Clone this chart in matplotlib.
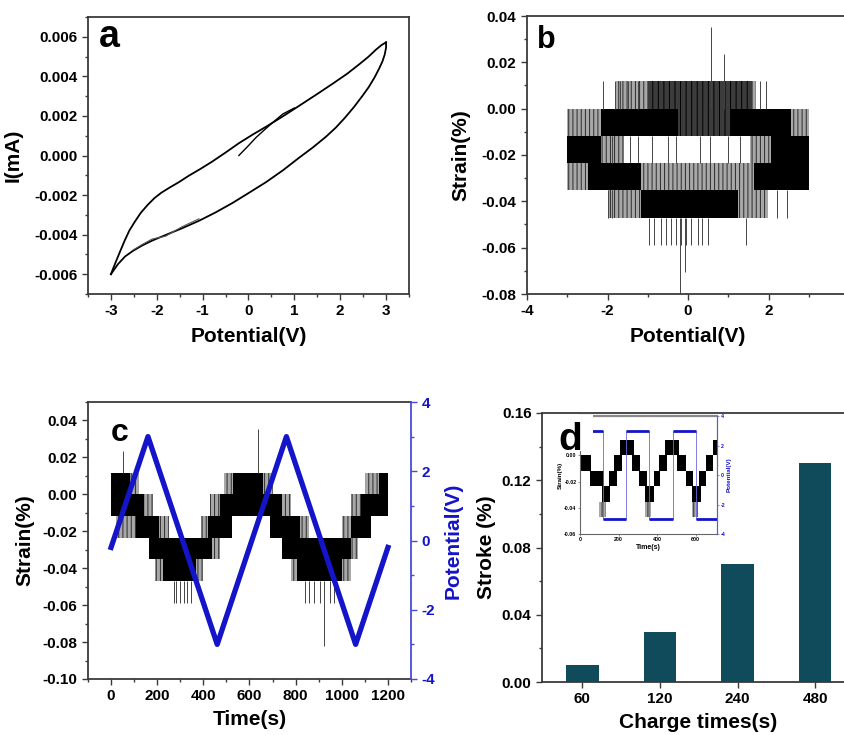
import matplotlib
matplotlib.use("Agg")
import matplotlib.pyplot as plt
from matplotlib.patches import Rectangle
from matplotlib.ticker import MultipleLocator

plt.rcParams["font.family"] = ["Liberation Sans", "DejaVu Sans"]
plt.rcParams["font.weight"] = "bold"
plt.rcParams["axes.labelweight"] = "bold"
plt.rcParams["axes.unicode_minus"] = False
plt.rcParams["hatch.linewidth"] = 0.7

# (a) cyclic voltammetry, potential in V, current in mA
cv_up_v = [-3.00, -2.95, -2.88, -2.80, -2.70, -2.60, -2.48, -2.35, -2.20, -2.05, -1.90,
           -1.72, -1.52, -1.30, -1.05, -0.80, -0.50, -0.21, 0.10, 0.38, 0.75, 1.11, 1.48,
           1.83, 2.15, 2.42, 2.62, 2.78, 2.90, 3.00]
cv_up_i = [-0.00600, -0.00570, -0.00530, -0.00485, -0.00430, -0.00380, -0.00335, -0.00290,
           -0.00250, -0.00215, -0.00188, -0.00162, -0.00135, -0.00102, -0.00068, -0.00032,
           0.00015, 0.00062, 0.00107, 0.00145, 0.00198, 0.00252, 0.00308, 0.00362,
           0.00413, 0.00462, 0.00500, 0.00535, 0.00558, 0.00572]
cv_down_v = [3.00, 3.00, 2.97, 2.92, 2.85, 2.75, 2.62, 2.48, 2.30, 2.10, 1.90, 1.69, 1.40,
             1.11, 0.75, 0.38, 0.00, -0.35, -0.72, -1.08, -1.45, -1.81, -2.10, -2.32,
             -2.52, -2.69, -2.85, -3.00]
cv_down_i = [0.00572, 0.00545, 0.00510, 0.00475, 0.00440, 0.00395, 0.00345, 0.00300,
             0.00245, 0.00190, 0.00140, 0.00095, 0.00040, -0.00010, -0.00075, -0.00135,
             -0.00190, -0.00240, -0.00288, -0.00330, -0.00368, -0.00402, -0.00430,
             -0.00455, -0.00482, -0.00510, -0.00550, -0.00600]
cv_down2_v = [-1.08, -1.45, -1.81, -2.10, -2.32, -2.52]
cv_down2_i = [-0.00320, -0.00360, -0.00408, -0.00422, -0.00450, -0.00478]
cv_start_v = [-0.21, 0.00, 0.16, 0.35, 0.52, 0.75, 1.00]
cv_start_i = [0.0000, 0.0005, 0.0009, 0.0013, 0.00165, 0.0021, 0.0024]

# strain readout resolution (%)
Q = 0.01176

# (b) strain vs potential; each entry (v0, v1, k) fills k*Q .. (k+1)*Q
b_dense = [(-2.15, -0.25, -1), (1.07, 2.56, -1), (-3.00, -2.15, -2), (2.06, 3.00, -2),
           (-2.48, -1.17, -3), (1.65, 3.00, -3), (-1.17, 1.23, -4)]
b_mid = [(-1.00, 1.60, 0), (-0.25, 1.07, -1)]
b_sparse = [(-3.00, -2.15, -1), (2.56, 3.00, -1), (-1.80, -1.00, 0), (1.60, 1.70, 0),
            (-2.15, -1.60, -2), (1.55, 2.06, -2), (-3.00, -2.48, -3), (-1.17, 1.65, -3),
            (-2.00, -1.17, -4), (1.23, 1.98, -4)]
# single spikes (v, k_low, k_high)
b_spikes = [(0.57, 0, 3), (0.90, 0, 2), (-2.11, 0, 1), (-1.82, 0, 1), (-1.70, 0, 1),
            (-1.49, 0, 1), (-1.24, 0, 1), (1.80, 0, 1), (1.95, 0, 1),
            (-0.96, -5, -4), (-0.84, -5, -4), (-0.67, -5, -4), (-0.55, -5, -4),
            (-0.42, -5, -4), (-0.30, -5, -4), (-0.17, -5, -4), (-0.05, -5, -4),
            (0.07, -5, -4), (0.24, -5, -4), (0.36, -5, -4), (0.49, -5, -4), (1.44, -5, -4),
            (-0.07, -6, -4), (-0.19, -7, -4), (-2.00, -4, -3), (-1.90, -4, -3),
            (2.20, -4, -3), (2.45, -4, -3), (-1.90, -2, -1), (-1.45, -2, -1),
            (-1.25, -2, -1), (-0.90, -2, -1), (-0.50, -2, -1), (-0.30, -2, -1),
            (0.30, -2, -1), (0.55, -2, -1), (1.00, -2, -1), (1.30, -2, -1)]

# (c) strain and applied potential vs time
c_dense = [(0, 80, 0), (530, 660, 0), (1160, 1200, 0), (0, 144, -1), (471, 740, -1),
           (1082, 1200, -1), (108, 209, -2), (420, 522, -2), (689, 820, -2),
           (1039, 1126, -2), (166, 436, -3), (740, 1039, -3), (224, 370, -4),
           (806, 1002, -4)]
c_sparse = [(20, 108, -2), (80, 120, 0), (490, 530, 0), (660, 700, 0), (1100, 1160, 0),
            (144, 180, -1), (430, 471, -1), (740, 780, -1), (1040, 1082, -1),
            (209, 250, -2), (390, 420, -2), (820, 860, -2), (1000, 1039, -2),
            (436, 470, -3), (1039, 1070, -3), (190, 224, -4), (370, 400, -4),
            (780, 806, -4), (1002, 1040, -4)]
c_spikes = [(52, 1, 2), (638, 1, 3), (272, -5, -4), (283, -5, -4), (300, -5, -4),
            (315, -5, -4), (330, -5, -4), (348, -5, -4), (842, -5, -4), (860, -5, -4),
            (880, -5, -4), (905, -5, -4), (950, -5, -4), (966, -5, -4), (922, -7, -4)]
c_time = [0, 160, 460, 760, 1060, 1200]
c_pot = [-0.2, 3, -3, 3, -3, -0.2]

# (d) stroke for each charge time, and the inset step response
charge_times = ["60", "120", "240", "480"]
stroke = [0.01, 0.03, 0.07, 0.13]
inset_dense = [(0, 56, -1), (52, 122, -2), (113, 157, -3), (148, 191, -2), (174, 217, -1),
               (209, 278, 0), (270, 313, -1), (304, 348, -2), (339, 383, -3),
               (383, 417, -2), (409, 452, -1), (443, 513, 0), (504, 548, -1),
               (548, 588, -2), (583, 626, -3), (617, 652, -2), (652, 687, -1),
               (687, 710, 0)]
inset_sparse = [(100, 135, -4), (335, 370, -4), (580, 610, -4)]
inset_time = [60, 120, 120, 240, 240, 360, 360, 480, 480, 600, 600, 710]
inset_pot = [3, 3, -3, -3, 3, 3, -3, -3, 3, 3, -3, -3]

W, H = 845, 735
SPINE = "#3a3a3a"
BLUE = "#1414c8"
BAR = "#0f4b5b"


def box(left, top, right, bottom):
    return [left / W, 1 - bottom / H, (right - left) / W, (bottom - top) / H]


def style(ax, size=11):
    for s in ax.spines.values():
        s.set_color(SPINE)
        s.set_linewidth(1.3)
    ax.tick_params(which="both", direction="out", top=False, right=False,
                   color=SPINE, labelsize=size, width=1)
    ax.tick_params(which="major", length=4)
    ax.tick_params(which="minor", length=2.5)


def draw_strain(ax, dense, sparse, spikes=(), mid=()):
    for x0, x1, k in sparse:
        ax.fill_between([x0, x1], k * Q, (k + 1) * Q, facecolor="#a8a8a8",
                        edgecolor="#2a2a2a", hatch="||||", lw=0)
    for x0, x1, k in mid:
        ax.fill_between([x0, x1], k * Q, (k + 1) * Q, facecolor="#3c3c3c",
                        edgecolor="#000000", hatch="|||", lw=0)
    for x0, x1, k in dense:
        ax.fill_between([x0, x1], k * Q, (k + 1) * Q, color="black", lw=0)
    for x, k0, k1 in spikes:
        ax.vlines(x, k0 * Q, k1 * Q, color="#444444", lw=0.7)


fig = plt.figure(figsize=(W / 100, H / 100), dpi=100)

# ---- a
ax = fig.add_axes(box(88, 17, 409, 294))
style(ax)
ax.plot(cv_up_v, cv_up_i, color="black", lw=1.3)
ax.plot(cv_down_v, cv_down_i, color="black", lw=1.3)
ax.plot(cv_down2_v, cv_down2_i, color="#555555", lw=0.8)
ax.plot(cv_start_v, cv_start_i, color="black", lw=1.0)
ax.set_xlim(-3.5, 3.5)
ax.set_ylim(-0.007, 0.007)
ax.xaxis.set_minor_locator(MultipleLocator(0.5))
ax.yaxis.set_minor_locator(MultipleLocator(0.001))
ax.set_xticks(range(-3, 4))
a_yt = [-0.006, -0.004, -0.002, 0, 0.002, 0.004, 0.006]
ax.set_yticks(a_yt)
ax.set_yticklabels(["%.3f" % v for v in a_yt])
ax.set_xlabel("Potential(V)", fontsize=15, labelpad=6)
ax.set_ylabel("I(mA)", fontsize=15, labelpad=8)
ax.text(0.035, 0.89, "a", transform=ax.transAxes, fontsize=27, fontweight="bold")

# ---- b
ax = fig.add_axes(box(527, 16, 849, 294))
style(ax)
draw_strain(ax, b_dense, b_sparse, b_spikes, b_mid)
ax.set_xlim(-4, 4)
ax.set_ylim(-0.08, 0.04)
ax.xaxis.set_minor_locator(MultipleLocator(1))
ax.yaxis.set_minor_locator(MultipleLocator(0.01))
b_yt = [-0.08, -0.06, -0.04, -0.02, 0, 0.02, 0.04]
ax.set_yticks(b_yt)
ax.set_yticklabels(["%.2f" % v for v in b_yt])
ax.set_xticks([-4, -2, 0, 2, 4])
ax.set_xticklabels(["-4", "-2", "0", "2", "4"])
ax.set_xlabel("Potential(V)", fontsize=15, labelpad=6)
ax.set_ylabel("Strain(%)", fontsize=15, labelpad=8)
ax.text(0.03, 0.885, "b", transform=ax.transAxes, fontsize=22, fontweight="bold")

# ---- c
ax = fig.add_axes(box(88, 402, 411, 679))
style(ax)
draw_strain(ax, c_dense, c_sparse, c_spikes)
ax.set_xlim(-100, 1300)
ax.set_ylim(-0.10, 0.05)
ax.set_xticks(range(0, 1201, 200))
ax.xaxis.set_minor_locator(MultipleLocator(100))
ax.yaxis.set_minor_locator(MultipleLocator(0.01))
c_yt = [-0.10, -0.08, -0.06, -0.04, -0.02, 0, 0.02, 0.04]
ax.set_yticks(c_yt)
ax.set_yticklabels(["%.2f" % v for v in c_yt])
ax.spines["right"].set_visible(False)
ax.set_xlabel("Time(s)", fontsize=15, labelpad=5)
ax.set_ylabel("Strain(%)", fontsize=15, labelpad=6)
ax.text(0.07, 0.86, "c", transform=ax.transAxes, fontsize=23, fontweight="bold")

ax2 = ax.twinx()
ax2.plot(c_time, c_pot, color=BLUE, lw=3.8)
ax2.set_ylim(-4, 4)
for s in ["left", "top", "bottom"]:
    ax2.spines[s].set_visible(False)
ax2.spines["right"].set_color("#4a4ad8")
ax2.spines["right"].set_linewidth(1.3)
ax2.set_yticks([-4, -2, 0, 2, 4])
ax2.yaxis.set_minor_locator(MultipleLocator(1))
ax2.tick_params(which="both", direction="out", color="#4a4ad8", labelcolor=BLUE,
                labelsize=11, width=1)
ax2.tick_params(which="major", length=4)
ax2.tick_params(which="minor", length=2.5)
ax2.set_ylabel("Potential(V)", fontsize=15, color=BLUE, labelpad=6)

# ---- d
ax = fig.add_axes(box(542, 413, 854, 682))
style(ax)
ax.bar(range(len(stroke)), stroke, width=0.42, color=BAR)
ax.set_xlim(-0.52, 3.5)
ax.set_ylim(0, 0.16)
ax.set_xticks(range(len(charge_times)))
ax.set_xticklabels(charge_times)
d_yt = [0, 0.04, 0.08, 0.12, 0.16]
ax.set_yticks(d_yt)
ax.set_yticklabels(["%.2f" % v for v in d_yt])
ax.yaxis.set_minor_locator(MultipleLocator(0.02))
ax.set_xlabel("Charge times(s)", fontsize=15, labelpad=5)
ax.set_ylabel("Stroke (%)", fontsize=15, labelpad=4)

axi = fig.add_axes(box(580, 416, 717, 534))
for s in axi.spines.values():
    s.set_color("#666666")
    s.set_linewidth(0.8)
axi.spines["top"].set_linewidth(1.6)
axi.spines["top"].set_color("#888888")
draw_strain(axi, inset_dense, inset_sparse)
axi.set_xlim(0, 710)
axi.set_ylim(-0.06, 0.03)
axi.set_xticks([0, 200, 400, 600])
axi.set_yticks([-0.06, -0.04, -0.02, 0.0])
axi.set_yticklabels(["-0.06", "-0.04", "-0.02", "0.00"])
axi.tick_params(which="both", direction="out", labelsize=3.8, length=1.5, width=0.5,
                pad=1, color="#666666")
axi.set_xlabel("Time(s)", fontsize=5, labelpad=1)
axi.set_ylabel("Strain(%)", fontsize=4.5, labelpad=1)
axi2 = axi.twinx()
axi2.plot(inset_time, inset_pot, color="#6a6ae0", lw=0.6)
for t0, t1, v in zip(inset_time[0::2], inset_time[1::2], inset_pot[0::2]):
    axi2.plot([t0, t1], [v, v], color=BLUE, lw=2.0, solid_capstyle="butt")
axi2.set_ylim(-4, 4)
for s in ["left", "top", "bottom"]:
    axi2.spines[s].set_visible(False)
axi2.spines["right"].set_color("#5a5ae0")
axi2.spines["right"].set_linewidth(0.8)
axi2.set_yticks([-4, -2, 0, 2, 4])
axi2.tick_params(direction="out", labelsize=3.8, length=1.5, width=0.5, pad=1,
                 color="#5a5ae0", labelcolor=BLUE)
axi2.set_ylabel("Potential(V)", fontsize=4.5, color=BLUE, labelpad=1)

# white patch behind the panel letter, hiding the inset's top-left corner
fig.add_artist(Rectangle((578 / W, 1 - 451 / H), 15 / W, 36.5 / H,
                         transform=fig.transFigure, facecolor="white", edgecolor="none"))
fig.text(558 / W, 1 - 450 / H, "d", fontsize=28, fontweight="bold")

fig.savefig("out.png", dpi=100, facecolor="white")
